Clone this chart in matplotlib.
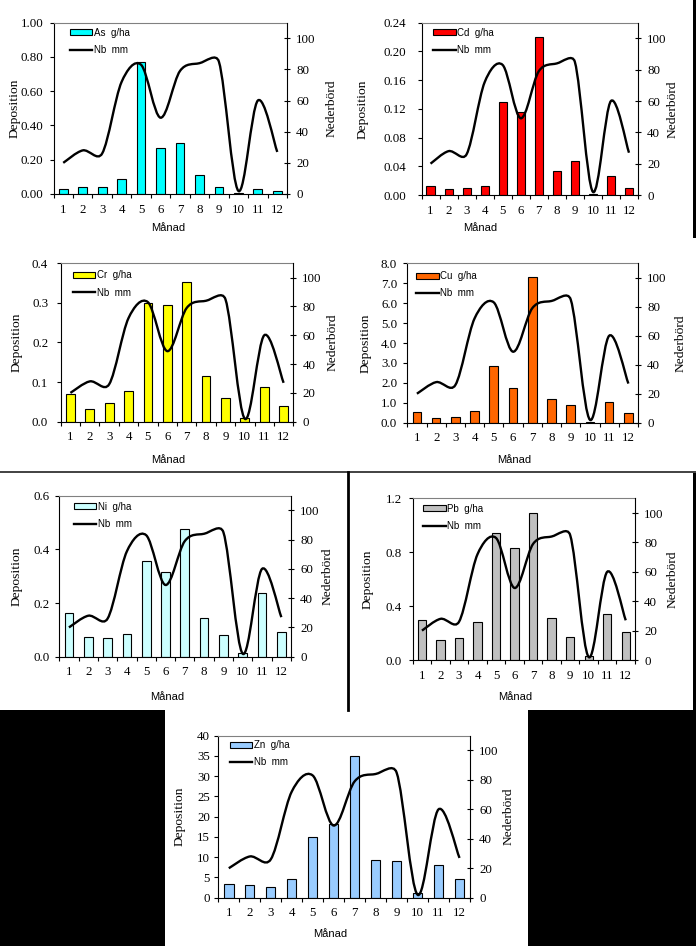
# -------------------------------------------------------------------------------------
# Library
import matplotlib
matplotlib.use('Agg')

import numpy as np
import matplotlib.pyplot as plt

from matplotlib.path import Path
from matplotlib.patches import PathPatch, Rectangle
from matplotlib.lines import Line2D
from matplotlib.ticker import FormatStrFormatter, MultipleLocator
# -------------------------------------------------------------------------------------


# -------------------------------------------------------------------------------------
# Data (monthly deposition g/ha and precipitation mm)
months = list(range(1, 13))
month_labels = [str(m) for m in months]

precip_mm = [20, 28, 26, 72, 83, 49, 79, 84, 85, 2, 60, 27]

as_gha = [0.03, 0.04, 0.04, 0.09, 0.77, 0.27, 0.30, 0.11, 0.04, 0.005, 0.03, 0.015]
cd_gha = [0.012, 0.008, 0.010, 0.012, 0.13, 0.115, 0.22, 0.033, 0.047, 0.002, 0.026, 0.010]
cr_gha = [0.070, 0.031, 0.046, 0.078, 0.299, 0.294, 0.352, 0.116, 0.061, 0.010, 0.088, 0.040]
cu_gha = [0.52, 0.25, 0.27, 0.59, 2.85, 1.72, 7.30, 1.17, 0.90, 0.05, 1.05, 0.47]
ni_gha = [0.164, 0.075, 0.068, 0.084, 0.358, 0.317, 0.476, 0.143, 0.082, 0.015, 0.236, 0.092]
pb_gha = [0.30, 0.146, 0.166, 0.282, 0.94, 0.83, 1.094, 0.314, 0.171, 0.03, 0.339, 0.205]
zn_gha = [3.5, 3.1, 2.6, 4.5, 14.9, 18.2, 35.1, 9.2, 9.05, 1.07, 8.07, 4.7]
# -------------------------------------------------------------------------------------


# -------------------------------------------------------------------------------------
# Figure geometry (pixels)
W, H = 696, 946
serif = 'Liberation Serif'
sans = 'Liberation Sans'

# name, values, colour, ymax, ystep, fmt, (xl, xr, yt, yb), dep_x, ned_x, manad_xy, legend_xy, ypad
panels = [
    ('As', as_gha, '#00FFFF', 1.0, 0.2, '%.2f', (53.5, 287, 22.7, 194), 15, 332, (168, 228), (70, 33.3), 4.3),
    ('Cd', cd_gha, '#FF0000', 0.24, 0.04, '%.2f', (421.5, 638, 22.7, 195), 363, 673, (480, 228), (433.5, 33.3), 8),
    ('Cr', cr_gha, '#FFFF00', 0.4, 0.1, '%.1f', (60.7, 293.3, 263.3, 421.7), 16.7, 333, (168, 460), (72.7, 276), 6),
    ('Cu', cu_gha, '#FF6600', 8.0, 1.0, '%.1f', (407.3, 638, 263.3, 422.7), 366, 681, (514, 460), (416.3, 276.7), 4.3),
    ('Ni', ni_gha, '#CCFFFF', 0.6, 0.2, '%.1f', (59.3, 291, 495.7, 656.7), 16.7, 328, (167, 696.7), (74, 507.3), 3.8),
    ('Pb', pb_gha, '#C0C0C0', 1.2, 0.4, '%.1f', (412.7, 635, 498.3, 660), 368, 673, (515, 696.7), (423.3, 509.3), 5),
    ('Zn', zn_gha, '#99CCFF', 40, 5, '%.0f', (218.3, 470, 735.7, 897.7), 180, 509, (330, 934), (230, 745.7), 3.1),
]
# -------------------------------------------------------------------------------------


# -------------------------------------------------------------------------------------
# Method to build an Excel-like smoothed line path
def excel_smooth(ax, x, y):

    pts = np.column_stack([x, y]).astype(float)
    scr = ax.transData.transform(pts)
    n = len(pts)

    verts = [pts[0]]
    codes = [Path.MOVETO]
    for i in range(n - 1):
        i0, i3 = max(i - 1, 0), min(i + 2, n - 1)
        p0, p1, p2, p3 = pts[i0], pts[i], pts[i + 1], pts[i3]
        s0, s1, s2, s3 = scr[i0], scr[i], scr[i + 1], scr[i3]

        d02 = np.hypot(*(s2 - s0))
        d12 = np.hypot(*(s2 - s1))
        d13 = np.hypot(*(s3 - s1))

        f1 = 1 / 6 if d02 / 6 < d12 / 2 else d12 / (2 * d02)
        f2 = 1 / 6 if d13 / 6 < d12 / 2 else d12 / (2 * d13)

        verts += [p1 + (p2 - p0) * f1, p2 - (p3 - p1) * f2, p2]
        codes += [Path.CURVE4] * 3

    return Path(verts, codes)
# -------------------------------------------------------------------------------------


# -------------------------------------------------------------------------------------
# Method to draw one panel
def draw_panel(fig, spec):

    name, values, color, ymax, ystep, fmt, box, dep_x, ned_x, manad_xy, leg_xy, ypad = spec
    xl, xr, yt, yb = box

    ax = fig.add_axes([xl / W, 1 - yb / H, (xr - xl) / W, (yb - yt) / H])
    bars = ax.bar(months, values, width=0.45, color=color, edgecolor='black',
                  linewidth=0.8, zorder=2)
    ax.set_xlim(0.5, 12.5)
    ax.set_ylim(0, ymax)
    ax.yaxis.set_major_locator(MultipleLocator(ystep))
    ax.yaxis.set_major_formatter(FormatStrFormatter(fmt))

    ax.set_xticks(months)
    ax.set_xticklabels(month_labels)
    ax.set_xticks(np.arange(0.5, 13, 1), minor=True)
    ax.tick_params(axis='x', which='major', length=0, pad=7)
    ax.tick_params(axis='x', which='minor', length=3, width=0.8, direction='out')
    ax.tick_params(axis='y', length=3, width=0.8, direction='out', pad=ypad)
    for lab in ax.get_xticklabels() + ax.get_yticklabels():
        lab.set_fontfamily(serif)
        lab.set_fontsize(9.3)

    ax.spines['top'].set_color('#808080')
    ax.spines['right'].set_visible(False)
    for side in ['top', 'left', 'bottom']:
        ax.spines[side].set_linewidth(0.8)

    ax2 = ax.twinx()
    ax2.set_ylim(0, 110)
    ax2.set_yticks(range(0, 101, 20))
    ax2.tick_params(axis='y', length=5, width=0.8, direction='inout', pad=4)
    for lab in ax2.get_yticklabels():
        lab.set_fontfamily(serif)
        lab.set_fontsize(9.3)
    for side in ['top', 'left', 'bottom']:
        ax2.spines[side].set_visible(False)
    ax2.spines['right'].set_linewidth(0.8)

    ax2.add_patch(PathPatch(excel_smooth(ax2, months, precip_mm), fill=False,
                            edgecolor='black', linewidth=1.7))

    line_handle = Line2D([], [], color='black', linewidth=1.7)
    ax2.legend([bars, line_handle], ['%s  g/ha' % name, 'Nb  mm'], loc='upper left',
               bbox_to_anchor=(leg_xy[0] / W, 1 - (leg_xy[1] - 5.5) / H),
               bbox_transform=fig.transFigure, frameon=False,
               prop={'family': sans, 'size': 7}, handlelength=2.3,
               handleheight=0.55, handletextpad=0.15, labelspacing=0.72,
               borderpad=0, borderaxespad=0)

    ymid = 1 - (yt + yb) / 2 / H
    fig.text(dep_x / W, ymid, 'Deposition', rotation=90, ha='center', va='center',
             family=serif, size=9.7)
    fig.text(ned_x / W, ymid, 'Nederbörd', rotation=90, ha='center', va='center',
             family=serif, size=9.7)
    fig.text(manad_xy[0] / W, 1 - manad_xy[1] / H, 'Månad', ha='center', va='center',
             family=sans, size=8)
# -------------------------------------------------------------------------------------


# -------------------------------------------------------------------------------------
# Method to add the black page borders
def px_box(fig, x0, y0, x1, y1):
    fig.add_artist(Rectangle((x0 / W, 1 - y1 / H), (x1 - x0) / W, (y1 - y0) / H,
                             transform=fig.transFigure, facecolor='black',
                             edgecolor='none'))


def draw_borders(fig):
    px_box(fig, 693, 0, 696, 238)
    px_box(fig, 693, 473, 696, 710)
    px_box(fig, 0, 710, 165, 946)
    px_box(fig, 528, 710, 696, 946)
    fig.add_artist(Line2D([0, 1], [1 - 472 / H] * 2, transform=fig.transFigure,
                          color='#333333', linewidth=1.3))
    fig.add_artist(Line2D([348 / W] * 2, [1 - 472 / H, 1 - 710 / H],
                          transform=fig.transFigure, color='black', linewidth=2))
# -------------------------------------------------------------------------------------


# -------------------------------------------------------------------------------------
# Main
fig = plt.figure(figsize=(W / 100, H / 100), dpi=100)
for spec in panels:
    draw_panel(fig, spec)
draw_borders(fig)
fig.savefig('out.png', dpi=100)
# -------------------------------------------------------------------------------------
